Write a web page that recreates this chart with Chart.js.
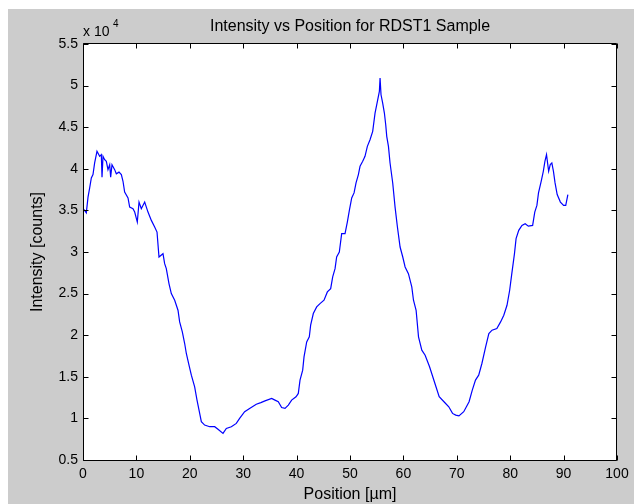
<!DOCTYPE html>
<html>
<head>
<meta charset="utf-8">
<script src="https://cdn.jsdelivr.net/npm/chart.js@4.4.1/dist/chart.umd.min.js"></script>
<style>
  body { margin: 0; background: #ffffff; }
  canvas { display: block; }
</style>
</head>
<body>
<canvas id="intensidade" width="637" height="504"></canvas>
<script>
// posicao em um, intensidade em counts
const positions = [
  0, 0.62, 0.94, 1.25, 1.56, 1.87, 2.18, 2.62, 3.12, 3.43, 3.56, 3.75, 4.06, 4.37, 4.68, 5.0, 5.18, 5.43,
  5.93, 6.24, 6.74, 7.18, 7.49, 7.8, 8.43, 8.74, 9.36, 9.68, 10.17, 10.49, 10.92, 11.55, 12.17, 12.8,
  13.42, 13.86, 14.23, 14.98, 15.29, 15.6, 16.1, 16.54, 17.17, 17.79, 18.1, 18.6, 19.04, 19.35, 19.85,
  20.29, 20.91, 21.35, 21.85, 22.16, 22.78, 23.72, 24.66, 25.28, 26.22, 26.84, 27.78, 28.71, 29.33,
  30.27, 31.2, 32.45, 33.3, 34.08, 35.33, 35.95, 36.57, 37.2, 37.83, 38.45, 39.07, 39.89, 40.32, 40.64,
  41.14, 41.39, 41.89, 42.38, 42.63, 43.13, 43.76, 44.38, 45.13, 45.76, 46.38, 46.76, 47.2, 47.5, 48.0,
  48.44, 49.07, 49.5, 49.88, 50.32, 50.76, 51.13, 51.57, 51.88, 52.38, 52.81, 53.25, 53.75, 54.25,
  54.69, 55.13, 55.5, 55.63, 55.81, 56.12, 56.44, 56.69, 56.88, 57.2, 57.5, 58.0, 58.44, 58.88, 59.38,
  59.88, 60.32, 60.94, 61.57, 61.89, 62.38, 62.83, 63.45, 64.07, 64.9, 65.5, 66.1, 66.7, 67.6, 68.5,
  69.2, 69.8, 70.4, 71.3, 72.3, 72.9, 73.5, 74.1, 74.7, 75.4, 76.0, 76.6, 77.5, 78.2, 78.8, 79.4, 79.9,
  80.3, 80.8, 81.1, 81.6, 82.2, 82.8, 83.4, 84.2, 84.6, 85.0, 85.3, 85.8, 86.2, 86.5, 86.8, 87.2, 87.5,
  87.8, 88.1, 88.4, 88.8, 89.4, 90.0, 90.4, 90.8
];
const intensity = [
  35250, 34700, 36600, 37700, 38900, 39300, 40700, 42100, 41500, 41700, 39000, 41500, 41100, 40900, 39900, 40500, 39000, 40500,
  39900, 39400, 39600, 39300, 38500, 37200, 36500, 35400, 35200, 34800, 33600, 36000, 35200, 36000, 34800, 33800,
  33000, 32400, 29400, 29800, 28600, 28000, 26200, 25000, 24200, 23000, 21600, 20400, 19000, 17800, 16400,
  15200, 13800, 12200, 10600, 9600, 9200, 9000, 9000, 8700, 8200, 8800, 9000, 9400, 10000,
  10800, 11200, 11700, 11900, 12100, 12400, 12200, 12000, 11300, 11200, 11600, 12200, 12600, 13000, 14600,
  15800, 17400, 19200, 19800, 21200, 22600, 23400, 23800, 24200, 25200, 25600, 27000, 28000, 29400, 30000,
  32200, 32200, 33600, 35000, 36500, 37100, 38300, 39300, 40300, 40900, 41500, 42700, 43500, 44500,
  46700, 48100, 49300, 50900, 48900, 47900, 46700, 45300, 43900, 42700, 40700, 38300, 35400, 33000, 30600,
  29400, 28200, 27400, 25800, 24200, 23000, 19800, 18200, 17600, 16200, 15000, 13800, 12600, 12000, 11400,
  10600, 10400, 10300, 10800, 12000, 13400, 14600, 15200, 16600, 18600, 20200, 20600, 20800, 21600, 22400, 23600, 25400,
  27400, 29800, 31600, 32600, 33200, 33400, 33100, 33200, 34800, 35600, 37100, 38500, 39700, 40900, 41700, 39700, 40500,
  40700, 39700, 38300, 36900, 36000, 35600, 35600, 36900
];
const x_ticks = [0, 10, 20, 30, 40, 50, 60, 70, 80, 90, 100];
const y_ticks = [5000, 10000, 15000, 20000, 25000, 30000, 35000, 40000, 45000, 50000, 55000];

const titulo = "Intensity vs Position for RDST1 Sample";
const fonte = "'Liberation Sans', Arial, Helvetica, sans-serif";

Chart.defaults.font.family = fonte;
Chart.defaults.color = "#000000";

const dataset_intensidade = [];
positions.forEach((p, i) => {
  dataset_intensidade.push({ x: p, y: intensity[i] });
});

// fundo cinza, caixa, ticks para dentro, titulo e "x 10^4"
const estiloMatlab = {
  id: "estiloMatlab",
  beforeDraw(chart) {
    const { ctx, chartArea: a } = chart;
    ctx.save();
    ctx.fillStyle = "#ffffff";
    ctx.fillRect(0, 0, chart.width, chart.height);
    ctx.fillStyle = "#cccccc";
    ctx.fillRect(8, 9, 626, chart.height - 9);
    ctx.fillStyle = "#ffffff";
    ctx.fillRect(a.left, a.top, a.right - a.left, a.bottom - a.top);
    ctx.restore();
  },
  afterDraw(chart) {
    const { ctx, chartArea: a, scales } = chart;
    const l = Math.round(a.left) + 0.5;
    const r = Math.round(a.right) - 0.5;
    const t = Math.round(a.top) - 0.5;
    const b = Math.round(a.bottom) + 0.5;
    const len = 5;
    ctx.save();
    ctx.strokeStyle = "#000000";
    ctx.lineWidth = 1;
    ctx.beginPath();
    ctx.rect(l, t, r - l, b - t);
    x_ticks.forEach((v) => {
      const px = Math.round(scales.x.getPixelForValue(v)) + 0.5;
      ctx.moveTo(px, b);
      ctx.lineTo(px, b - len);
      ctx.moveTo(px, t);
      ctx.lineTo(px, t + len);
    });
    y_ticks.forEach((v) => {
      const py = Math.round(scales.y.getPixelForValue(v)) + 0.5;
      ctx.moveTo(l, py);
      ctx.lineTo(l + len, py);
      ctx.moveTo(r, py);
      ctx.lineTo(r - len, py);
    });
    ctx.stroke();

    ctx.fillStyle = "#000000";
    ctx.font = "16px " + fonte;
    ctx.textAlign = "center";
    ctx.textBaseline = "middle";
    ctx.fillText(titulo, (a.left + a.right) / 2, 27);

    ctx.font = "14px " + fonte;
    ctx.textAlign = "left";
    ctx.textBaseline = "alphabetic";
    ctx.fillText("x 10", a.left, 36);
    ctx.font = "10px " + fonte;
    ctx.fillText("4", a.left + 30, 27);
    ctx.restore();
  },
};

new Chart(document.getElementById("intensidade"), {
  type: "line",
  data: {
    datasets: [
      {
        label: "Intensity",
        data: dataset_intensidade,
        borderColor: "#0000ff",
        borderWidth: 1.2,
        pointRadius: 0,
        tension: 0,
        fill: false,
      },
    ],
  },
  options: {
    responsive: false,
    animation: false,
    layout: {
      padding: { top: 44, right: 20, left: 0, bottom: 0 },
    },
    scales: {
      x: {
        type: "linear",
        min: 0,
        max: 100,
        afterFit: (scale) => { scale.height = 44; },
        afterBuildTicks: (scale) => { scale.ticks = x_ticks.map((v) => ({ value: v })); },
        grid: { display: false, drawTicks: false },
        border: { display: false },
        ticks: {
          font: { size: 14 },
          color: "#000000",
          padding: 6,
          maxRotation: 0,
        },
        title: {
          display: true,
          text: "Position [µm]",
          font: { size: 16 },
          color: "#000000",
          padding: { top: 0, bottom: 0 },
        },
      },
      y: {
        min: 5000,
        max: 55000,
        afterFit: (scale) => { scale.width = 83; },
        afterBuildTicks: (scale) => { scale.ticks = y_ticks.map((v) => ({ value: v })); },
        grid: { display: false, drawTicks: false },
        border: { display: false },
        ticks: {
          font: { size: 14 },
          color: "#000000",
          padding: 5,
          callback: function (val) {
            return String(val / 10000);
          },
        },
        title: {
          display: true,
          text: "Intensity [counts]",
          font: { size: 16 },
          color: "#000000",
          padding: { top: 28, bottom: 0 },
        },
      },
    },
    plugins: {
      legend: { display: false },
      title: { display: false },
      tooltip: { enabled: false },
    },
  },
  plugins: [estiloMatlab],
});
</script>
</body>
</html>
